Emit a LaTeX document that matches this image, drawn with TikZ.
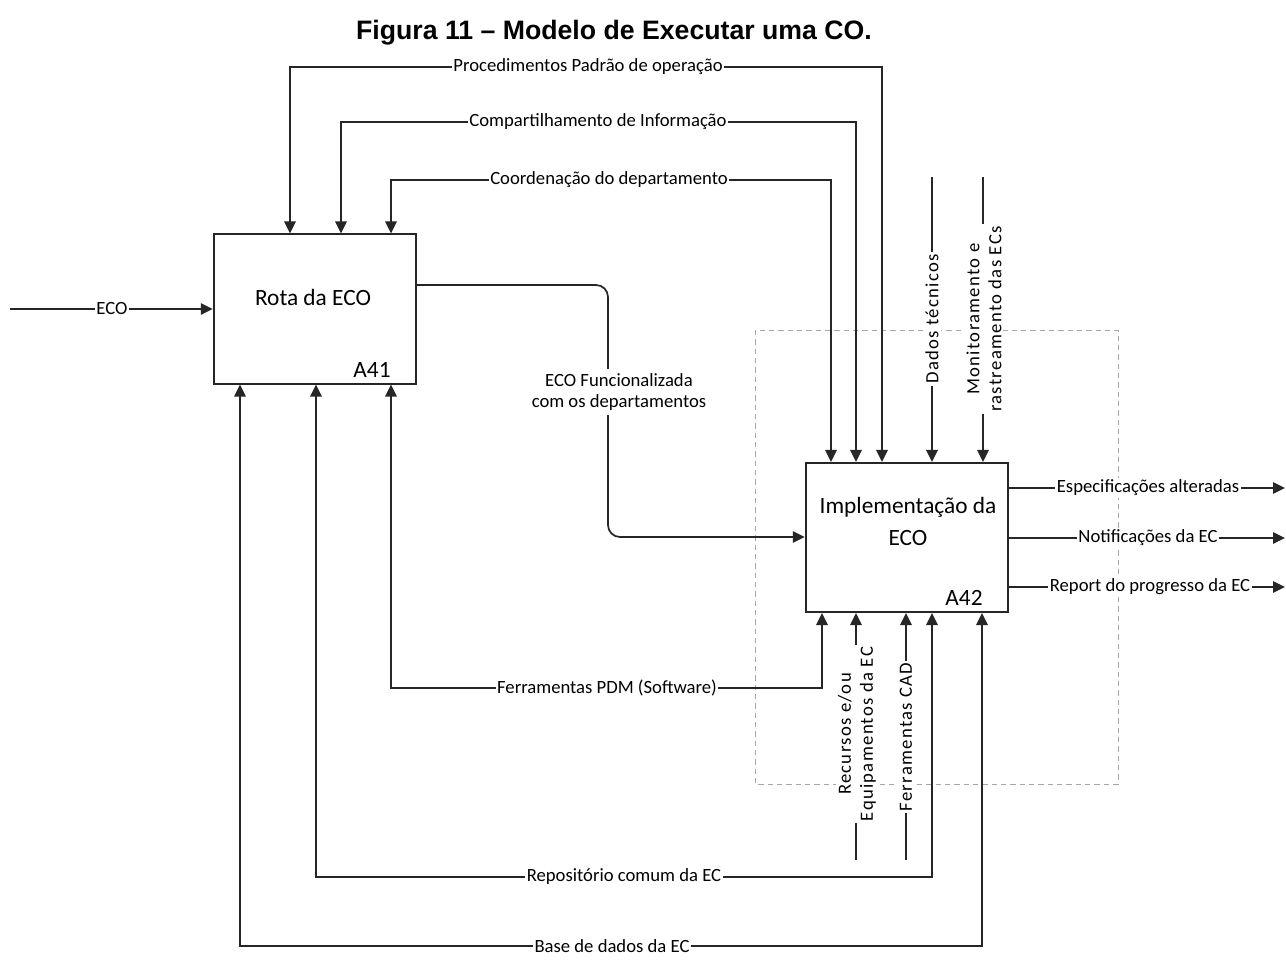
\documentclass[tikz,border=0pt]{standalone}
\usepackage{fontspec}
\setmainfont{Carlito}
\newfontfamily\titlefont{Liberation Sans}
\newfontfamily\spacedfont[LetterSpace=7]{Carlito}
\usetikzlibrary{arrows.meta,calc}
\begin{document}
\begin{tikzpicture}[x=0.75pt,y=-0.75pt,
  conn/.style={draw=black!85, line width=1.3pt},
  arr/.style={conn, -{Triangle[length=9pt,width=8.5pt]}},
  darr/.style={conn, {Triangle[length=9pt,width=8.5pt]}-{Triangle[length=9pt,width=8.5pt]}},
  func/.style={draw=black!85, line width=1.3pt, fill=white, minimum width=152pt, minimum height=112pt, inner sep=0pt},
  lab/.style={fill=white, inner sep=1.2pt, font=\fontsize{14}{16}\selectfont, text=black},
  rlab/.style={fill=white, inner sep=1.5pt, rotate=90, align=center, font=\spacedfont\fontsize{14}{16.5}\selectfont},
  btext/.style={font=\fontsize{17.5}{24}\selectfont, align=center},
  frame/.style={draw=black!35, line width=0.6pt, dash pattern=on 4pt off 3pt}
]
\fill[white] (0,0) rectangle (1286,960);
\useasboundingbox (0,0) rectangle (1286,960);

% title
\node[font=\titlefont\bfseries\fontsize{20}{23}\selectfont] (title) at (614,33) {Figura 11 – Modelo de Executar uma CO.};

% dashed frame
\draw[frame] (755,330) rectangle (1118,784);

% function boxes
\node[func] (a41) at (315,309) {};
\node[func] (a42) at (907,537.5) {};
\node[btext] (a41t) at (313,297) {Rota da ECO};
\node[btext] (a41n) at (372,370) {A41};
\node[btext] (a42t) at (908,521) {Implementação da\\ECO};
\node[btext] (a42n) at (964,598) {A42};

% coordinates of ports
\coordinate (pL) at (290,67);   \coordinate (pR) at (882,67);
\coordinate (cL) at (341,122);  \coordinate (cR) at (856,122);
\coordinate (dL) at (391,180);  \coordinate (dR) at (831,180);
\coordinate (tech) at (932,177);
\coordinate (mon) at (983,177);
\coordinate (ecoin) at (10,309);
\coordinate (fA) at ($(a41.east)+(0,-24)$);
\coordinate (fB) at (608,285);
\coordinate (fC) at (608,537);
\coordinate (pdmR) at (822,688); \coordinate (pdmL) at (391,688);
\coordinate (repR) at (932,877); \coordinate (repL) at (316,877);
\coordinate (basR) at (982,946); \coordinate (basL) at (240,946);
\coordinate (rec) at (856,860);
\coordinate (cad) at (906,860);
\coordinate (o1) at (1285,488);
\coordinate (o2) at (1285,538);
\coordinate (o3) at (1285,587);

% controls (top)
\draw[darr] (pL |- a41.north) -- (pL) -- (pR) -- (pR |- a42.north);
\draw[darr] (cL |- a41.north) -- (cL) -- (cR) -- (cR |- a42.north);
\draw[darr] (dL |- a41.north) -- (dL) -- (dR) -- (dR |- a42.north);
\draw[arr] (tech) -- (tech |- a42.north);
\draw[arr] (mon) -- (mon |- a42.north);

% input ECO
\draw[arr] (ecoin) -- (a41.west);

% A41 -> A42
\draw[arr, rounded corners=9pt] (fA) -- (fB) -- (fC) -- (fC -| a42.west);

% mechanisms (bottom)
\draw[darr] (pdmL |- a41.south) -- (pdmL) -- (pdmR) -- (pdmR |- a42.south);
\draw[darr] (repL |- a41.south) -- (repL) -- (repR) -- (repR |- a42.south);
\draw[darr] (basL |- a41.south) -- (basL) -- (basR) -- (basR |- a42.south);
\draw[arr] (rec) -- (rec |- a42.south);
\draw[arr] (cad) -- (cad |- a42.south);

% outputs
\draw[arr] (o1 -| a42.east) -- (o1);
\draw[arr] (o2 -| a42.east) -- (o2);
\draw[arr] (o3 -| a42.east) -- (o3);

% labels
\node[lab] (lp) at (588,67) {Procedimentos Padrão de operação};
\node[lab] (lc) at (598,122) {Compartilhamento de Informação};
\node[lab] (ld) at (609,180) {Coordenação do departamento};
\node[lab] (leco) at (112,309) {ECO};
\node[lab, align=center, inner sep=3pt] (lf) at (619,392) {ECO Funcionalizada\\com os departamentos};
\node[rlab] (ltech) at (932,319) {Dados técnicos};
\node[rlab] (lmon) at (984,319) {Monitoramento e\\rastreamento das ECs};
\node[rlab] (lrec) at (857,734) {Recursos e/ou\\Equipamentos da EC};
\node[rlab] (lcad) at (906,737) {Ferramentas CAD};
\node[lab] (lpdm) at (607,688) {Ferramentas PDM (Software)};
\node[lab] (lrep) at (624,877) {Repositório comum da EC};
\node[lab] (lbas) at (612,946) {Base de dados da EC};
\node[lab] (lo1) at (1148,488) {Especificações alteradas};
\node[lab] (lo2) at (1148,538) {Notificações da EC};
\node[lab] (lo3) at (1150,587) {Report do progresso da EC};
\end{tikzpicture}
\end{document}
